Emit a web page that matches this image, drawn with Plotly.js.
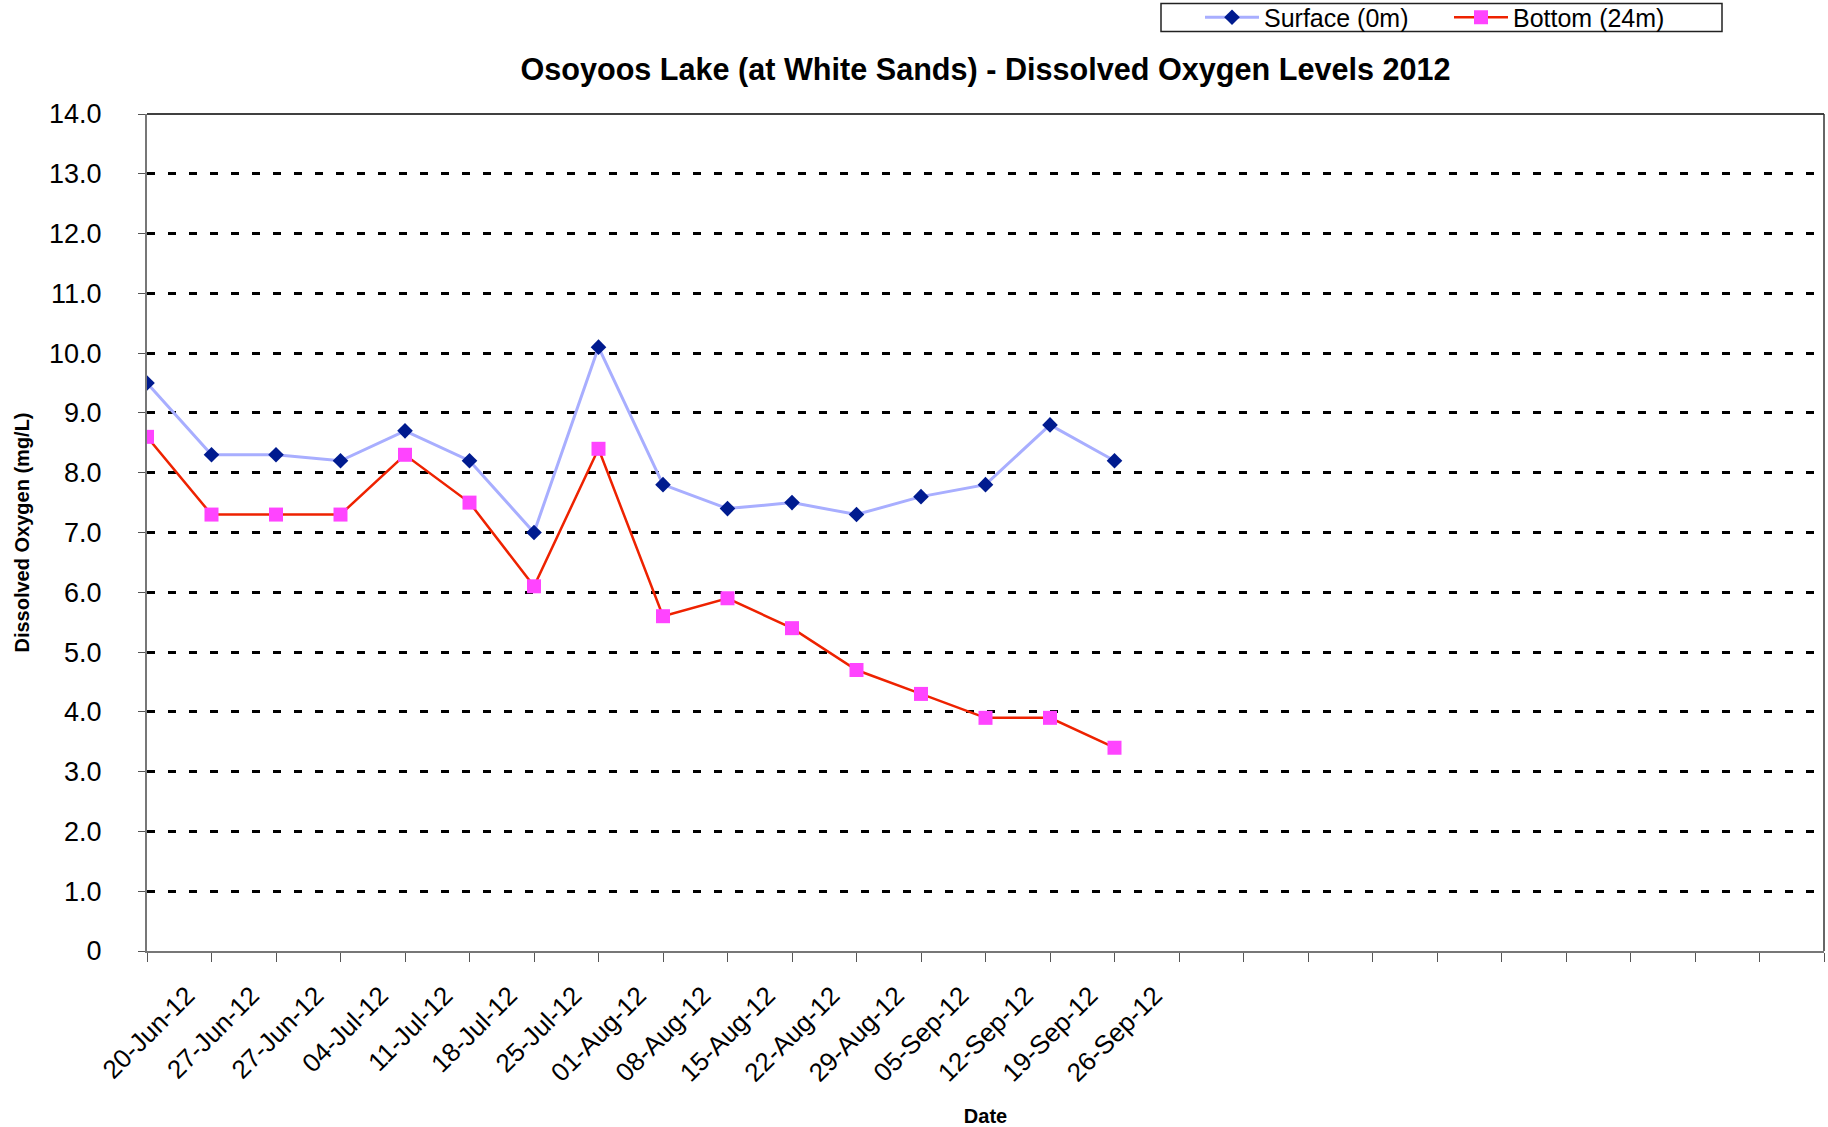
<!DOCTYPE html>
<html>
<head>
<meta charset="utf-8">
<script src="https://cdn.plot.ly/plotly-3.0.1.min.js"></script>
<style>html,body{margin:0;padding:0;background:#fff;}#chart{width:1828px;height:1127px;}</style>
</head>
<body>
<div id="chart"></div>
<script>
const dateLabels = ["20-Jun-12","27-Jun-12","27-Jun-12","04-Jul-12","11-Jul-12","18-Jul-12","25-Jul-12","01-Aug-12","08-Aug-12","15-Aug-12","22-Aug-12","29-Aug-12","05-Sep-12","12-Sep-12","19-Sep-12","26-Sep-12"];
const blankSlots = 11;
const surface = [9.5, 8.3, 8.3, 8.2, 8.7, 8.2, 7.0, 10.1, 7.8, 7.4, 7.5, 7.3, 7.6, 7.8, 8.8, 8.2];
const bottom = [8.6, 7.3, 7.3, 7.3, 8.3, 7.5, 6.1, 8.4, 5.6, 5.9, 5.4, 4.7, 4.3, 3.9, 3.9, 3.4];
const yTickVals = [0,1,2,3,4,5,6,7,8,9,10,11,12,13,14];
const yTickText = ["0","1.0","2.0","3.0","4.0","5.0","6.0","7.0","8.0","9.0","10.0","11.0","12.0","13.0","14.0"];

const nSlots = dateLabels.length + blankSlots;
const xIdx = dateLabels.map((_, i) => i);
const xTickVals = Array.from({length: nSlots}, (_, i) => i);
const xTickText = xTickVals.map(i => i < dateLabels.length ? dateLabels[i] : "");

const FONT = "Liberation Sans, Arial, Helvetica, sans-serif";

// plot area in px (for converting legend box to paper coords)
const PL = 147, PR = 1824, PT = 114, PB = 951;
const px2x = v => (v - PL) / (PR - PL);
const py2y = v => (PB - v) / (PB - PT);

const traces = [
  {
    x: xIdx, y: surface, name: "Surface (0m)", type: "scatter", mode: "lines+markers",
    line: {color: "#A8AEFF", width: 3},
    marker: {symbol: "diamond", size: 12, color: "#001B8F"}
  },
  {
    x: xIdx, y: bottom, name: "Bottom (24m)", type: "scatter", mode: "lines+markers",
    line: {color: "#EE2200", width: 2.5},
    marker: {symbol: "square", size: 14, color: "#FF44FF"}
  }
];

const layout = {
  width: 1828, height: 1127,
  paper_bgcolor: "#fff", plot_bgcolor: "#fff",
  font: {family: FONT, color: "#000"},
  margin: {l: PL, r: 1828 - PR, t: PT, b: 1127 - PB, autoexpand: false},
  title: {
    text: "<b>Osoyoos Lake (at White Sands) - Dissolved Oxygen Levels 2012</b>",
    font: {family: FONT, size: 30.6, color: "#000"},
    x: 0.5, xref: "paper", xanchor: "center", y: 1 - 69/1127, yref: "container", yanchor: "middle"
  },
  showlegend: true,
  legend: {
    orientation: "h", x: px2x(1200), y: py2y(-5.5), xanchor: "left", yanchor: "top",
    borderwidth: 0, bgcolor: "rgba(0,0,0,0)",
    font: {family: FONT, size: 25, color: "#000"},
    itemwidth: 54, entrywidth: 180, entrywidthmode: "pixels", traceorder: "normal"
  },
  xaxis: {
    range: [0, nSlots - 1], tickmode: "array", tickvals: xTickVals, ticktext: xTickText,
    tickangle: -45, ticks: "outside", ticklen: 9, tickcolor: "#555", tickwidth: 1,
    showline: true, linecolor: "#777", linewidth: 2, showgrid: false, zeroline: false,
    tickfont: {family: FONT, size: 26, color: "#000"},
    ticklabelshift: 40, ticklabelstandoff: 8,
    title: {text: "<b>Date</b>", font: {family: FONT, size: 20, color: "#000"}, standoff: 25},
    fixedrange: true
  },
  yaxis: {
    range: [0, 14], tickmode: "array", tickvals: yTickVals, ticktext: yTickText,
    ticks: "outside", ticklen: 7, tickcolor: "#555", tickwidth: 1,
    showline: true, linecolor: "#777", linewidth: 2, zeroline: false,
    showgrid: true, gridcolor: "#000", gridwidth: 3, griddash: "8px,13px",
    tickfont: {family: FONT, size: 27, color: "#000"},
    ticklabelstandoff: 31,
    title: {text: "<b>Dissolved Oxygen (mg/L)</b>", font: {family: FONT, size: 20, color: "#000"}, standoff: 14},
    fixedrange: true
  },
  shapes: [
    {type: "line", xref: "paper", yref: "paper", x0: 0, x1: 1, y0: 1, y1: 1, line: {color: "#000", width: 1.5}},
    {type: "line", xref: "paper", yref: "paper", x0: 1, x1: 1, y0: 0, y1: 1, line: {color: "#333", width: 1.5}},
    {type: "rect", xref: "paper", yref: "paper", x0: px2x(1161), x1: px2x(1722), y0: py2y(31.5), y1: py2y(3.5),
     line: {color: "#222", width: 1.5}, fillcolor: "rgba(0,0,0,0)", layer: "below"}
  ]
};

Plotly.newPlot("chart", traces, layout, {displayModeBar: false, staticPlot: true});
</script>
</body>
</html>
